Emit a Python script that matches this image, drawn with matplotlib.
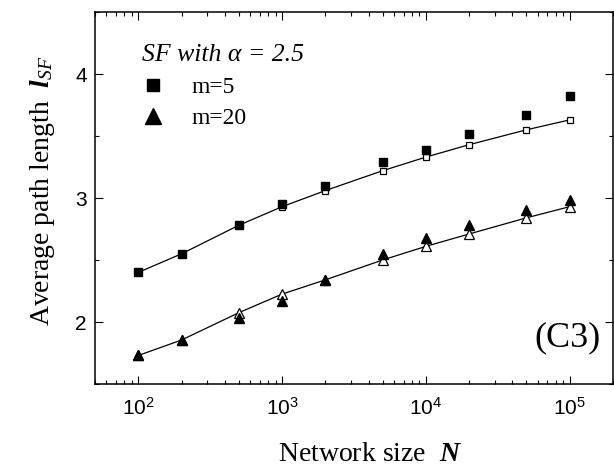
import matplotlib
matplotlib.use("Agg")
import matplotlib.pyplot as plt
from matplotlib.lines import Line2D
from matplotlib.ticker import MultipleLocator, LogLocator

# average path length vs network size (SF, alpha = 2.5)
N = [100, 200, 500, 1000, 2000, 5000, 10000, 20000, 50000, 100000]
m5_sim = [2.40, 2.55, 2.78, 2.95, 3.10, 3.29, 3.39, 3.52, 3.67, 3.82]
m5_theory = [2.40, 2.55, 2.78, 2.93, 3.06, 3.22, 3.33, 3.43, 3.55, 3.63]
m20_sim = [1.73, 1.855, 2.03, 2.17, 2.34, 2.545, 2.68, 2.78, 2.90, 2.98]
m20_theory = [1.73, 1.855, 2.075, 2.225, 2.34, 2.50, 2.61, 2.71, 2.84, 2.93]

plt.rcParams["font.family"] = ["Liberation Sans", "DejaVu Sans"]
plt.rcParams["mathtext.fontset"] = "custom"
plt.rcParams["mathtext.rm"] = "Liberation Serif"
plt.rcParams["mathtext.it"] = "Liberation Serif:italic"
plt.rcParams["mathtext.bf"] = "Liberation Serif:bold"
plt.rcParams["mathtext.bfit"] = "Liberation Serif:italic:bold"

serif = ["Liberation Serif", "DejaVu Serif"]

fig = plt.figure(figsize=(6.14, 4.67), dpi=100)
ax = fig.add_axes([95 / 614, 1 - 384 / 467, 518 / 614, 372 / 467])

# theory curves (open markers + line), simulation on top (filled)
ax.plot(N, m5_theory, "-s", color="black", lw=0.9, ms=5, mfc="white",
        mec="black", mew=0.9)
ax.plot(N, m20_theory, "-^", color="black", lw=0.9, ms=6.5, mfc="white",
        mec="black", mew=0.9)
ax.plot(N, m5_sim, "s", color="black", ms=5.8, ls="none")
ax.plot(N, m20_sim, "^", color="black", ms=7.2, ls="none")

ax.set_xscale("log")
ax.set_xlim(50, 2e5)
ax.set_ylim(1.5, 4.5)
ax.yaxis.set_major_locator(MultipleLocator(1))
ax.yaxis.set_minor_locator(MultipleLocator(0.5))
ax.xaxis.set_minor_locator(LogLocator(base=10, subs=range(2, 10), numticks=20))

ax.tick_params(which="both", direction="in", top=True, right=True,
               labelsize=15, width=0.8)
ax.tick_params(which="major", length=5.5, pad=6)
ax.tick_params(axis="x", which="major", pad=9)
ax.tick_params(which="minor", length=3)
for s in ax.spines.values():
    s.set_linewidth(1.1)

ax.set_xlabel(r"Network size  $\mathbfit{N}$", fontsize=20, family=serif)
ax.set_ylabel(r"Average path length  $\mathbfit{l}_{\mathit{SF}}$",
              fontsize=20, family=serif)
ax.xaxis.set_label_coords(0.53, -0.155)
ax.yaxis.set_label_coords(-0.073, 0.52)

handles = [
    Line2D([], [], marker="s", color="black", ls="none", ms=9),
    Line2D([], [], marker="^", color="black", ls="none", ms=11),
]
leg = ax.legend(handles, ["m=5", "m=20"], loc="upper left",
                bbox_to_anchor=(0.09, 0.915), frameon=False,
                title="SF with α = 2.5", alignment="left",
                prop={"family": serif, "size": 17},
                title_fontproperties={"family": serif, "style": "italic",
                                      "size": 18.5},
                handlelength=1.0, handletextpad=1.1, labelspacing=0.4,
                borderpad=0, borderaxespad=0)
leg._legend_box.sep = 8

ax.text(0.976, 0.125, "(C3)", transform=ax.transAxes, ha="right",
        va="center", fontsize=26, family=serif)

fig.savefig("out.png", dpi=100)
